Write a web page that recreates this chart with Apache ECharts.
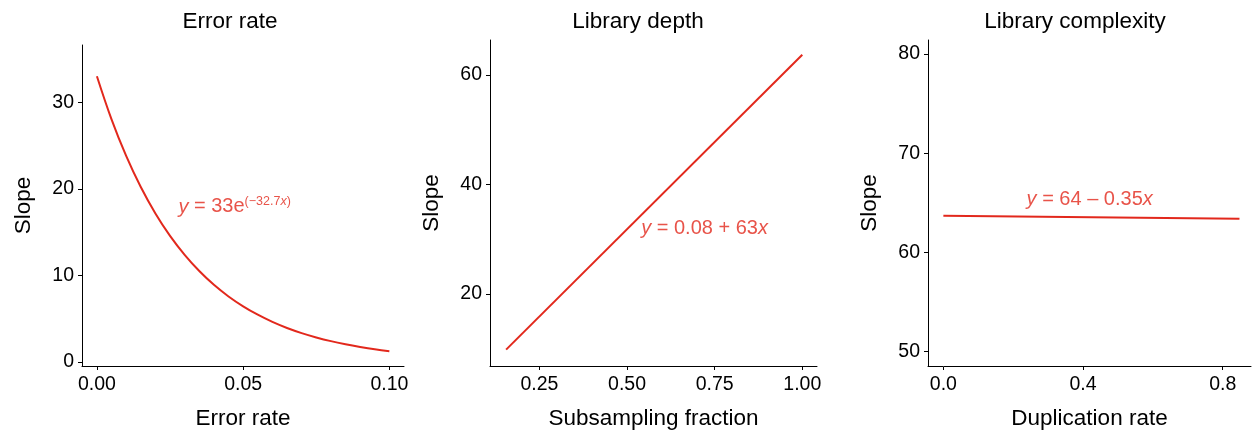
<!DOCTYPE html>
<html>
<head>
<meta charset="UTF-8">
<title>Slope</title>
<script src="https://cdn.jsdelivr.net/npm/echarts@6/dist/echarts.min.js"></script>
<style>
html,body{margin:0;padding:0;background:#fff;}
#main{width:1252px;height:433px;}
</style>
</head>
<body>
<div id="main"></div>
<script>
// 数据
var errX = [0, 0.005, 0.01, 0.015, 0.02, 0.025, 0.03, 0.035, 0.04, 0.045, 0.05, 0.055, 0.06, 0.065, 0.07, 0.075, 0.08, 0.085, 0.09, 0.095, 0.10];
var errY = [33.0, 28.02, 23.79, 20.20, 17.15, 14.56, 12.37, 10.50, 8.91, 7.57, 6.43, 5.46, 4.63, 3.93, 3.34, 2.84, 2.41, 2.05, 1.74, 1.47, 1.25];
var depthX = [0.155, 1.0];
var depthY = [9.8, 63.7];
var dupX = [0, 0.848];
var dupY = [63.7, 63.4];
var dupLow = [63.45, 63.12];
var dupHigh = [63.95, 63.68];

// 刻度
var errXTicks = [0, 0.05, 0.10], errXLabels = ['0.00', '0.05', '0.10'];
var errYTicks = [0, 10, 20, 30];
var depXTicks = [0.25, 0.5, 0.75, 1.0], depXLabels = ['0.25', '0.50', '0.75', '1.00'];
var depYTicks = [20, 40, 60];
var dupXTicks = [0, 0.4, 0.8], dupXLabels = ['0.0', '0.4', '0.8'];
var dupYTicks = [50, 60, 70, 80];

var RED = '#e2281c';
var FONT = 'Liberation Sans, Arial, Helvetica, sans-serif';

function zip(a, b) {
	var out = [];
	for (var i = 0; i < a.length; i++) out.push([a[i], b[i]]);
	return out;
}

function xAxis(idx, min, max, ticks, labels, name) {
	return {
		type: 'value', gridIndex: idx, min: min, max: max,
		name: name, nameLocation: 'middle', nameGap: 41,
		nameTextStyle: {fontSize: 22.5, color: '#000', fontFamily: FONT},
		splitLine: {show: false},
		axisLine: {onZero: false, lineStyle: {color: '#000', width: 1}},
		axisTick: {length: 4, customValues: ticks, lineStyle: {color: '#000'}},
		axisLabel: {
			customValues: ticks, fontSize: 19.5, color: '#000', fontFamily: FONT, margin: 9,
			formatter: function (v) {
				for (var i = 0; i < ticks.length; i++) if (Math.abs(ticks[i] - v) < 1e-9) return labels ? labels[i] : String(ticks[i]);
				return '';
			}
		}
	};
}

function yAxis(idx, min, max, ticks) {
	return {
		type: 'value', gridIndex: idx, min: min, max: max,
		name: 'Slope', nameLocation: 'middle', nameGap: 47, nameRotate: 90,
		nameTextStyle: {fontSize: 22.5, color: '#000', fontFamily: FONT},
		splitLine: {show: false},
		axisLine: {show: true, onZero: false, lineStyle: {color: '#000', width: 1}},
		axisTick: {show: true, length: 4, customValues: ticks, lineStyle: {color: '#000'}},
		axisLabel: {customValues: ticks, fontSize: 19.5, color: '#000', fontFamily: FONT, margin: 8}
	};
}

function note(idx, pt, text, pos) {
	return {
		type: 'scatter', xAxisIndex: idx, yAxisIndex: idx, silent: true,
		symbolSize: 1, itemStyle: {color: 'rgba(0,0,0,0)'},
		data: [pt],
		label: {
			show: true, position: pos, distance: 0,
			formatter: text, color: RED, fontSize: 20, fontFamily: FONT,
			rich: {
				i: {fontStyle: 'italic', color: RED, fontSize: 20, fontFamily: FONT},
				sup: {color: RED, fontSize: 12.5, fontFamily: FONT, verticalAlign: 'top', padding: [0, 0, 10, 0]},
				supi: {color: RED, fontSize: 12.5, fontStyle: 'italic', fontFamily: FONT, verticalAlign: 'top', padding: [0, 0, 10, 0]}
			}
		}
	};
}

var chart = echarts.init(document.getElementById('main'));
var titleStyle = {fontSize: 22.5, fontWeight: 'normal', color: '#000', fontFamily: FONT};
var option = {
	backgroundColor: '#fff',
	animation: false,
	title: [
		{text: 'Error rate', left: 225, top: 5, textAlign: 'center', textStyle: titleStyle},
		{text: 'Library depth', left: 633, top: 5, textAlign: 'center', textStyle: titleStyle},
		{text: 'Library complexity', left: 1070, top: 5, textAlign: 'center', textStyle: titleStyle}
	],
	grid: [
		{left: 82, top: 45, width: 322, height: 321, outerBoundsMode: 'none'},
		{left: 490, top: 40, width: 327, height: 326, outerBoundsMode: 'none'},
		{left: 928, top: 40, width: 323, height: 326, outerBoundsMode: 'none'}
	],
	xAxis: [
		xAxis(0, -0.0051, 0.105, errXTicks, errXLabels, 'Error rate'),
		xAxis(1, 0.109, 1.042, depXTicks, depXLabels, 'Subsampling fraction'),
		xAxis(2, -0.044, 0.881, dupXTicks, dupXLabels, 'Duplication rate')
	],
	yAxis: [
		yAxis(0, -0.46, 36.6, errYTicks),
		yAxis(1, 6.8, 66.4, depYTicks),
		yAxis(2, 48.56, 81.4, dupYTicks)
	],
	series: [
		{type: 'line', xAxisIndex: 0, yAxisIndex: 0, data: zip(errX, errY), smooth: 0.4, showSymbol: false, lineStyle: {color: RED, width: 2}},
		{type: 'line', xAxisIndex: 1, yAxisIndex: 1, data: zip(depthX, depthY), showSymbol: false, lineStyle: {color: RED, width: 2}},
		// 置信带
		{type: 'line', xAxisIndex: 2, yAxisIndex: 2, data: zip(dupX, dupLow), stack: 'band', showSymbol: false, lineStyle: {opacity: 0}},
		{type: 'line', xAxisIndex: 2, yAxisIndex: 2, data: zip(dupX, dupHigh.map(function (v, i) { return v - dupLow[i]; })), stack: 'band', showSymbol: false, lineStyle: {opacity: 0}, areaStyle: {color: '#cfcfcf', opacity: 1}},
		{type: 'line', xAxisIndex: 2, yAxisIndex: 2, data: zip(dupX, dupY), showSymbol: false, lineStyle: {color: RED, width: 2}},
		note(0, [0.0277, 17.9], '{i|y} = 33e{sup|(\u221232.7}{supi|x}{sup|)}', 'right'),
		note(1, [0.539, 31.9], '{i|y} = 0.08 + 63{i|x}', 'right'),
		note(2, [0.419, 65.3], '{i|y} = 64 \u2013 0.35{i|x}', 'inside')
	]
};
chart.setOption(option);
</script>
</body>
</html>
